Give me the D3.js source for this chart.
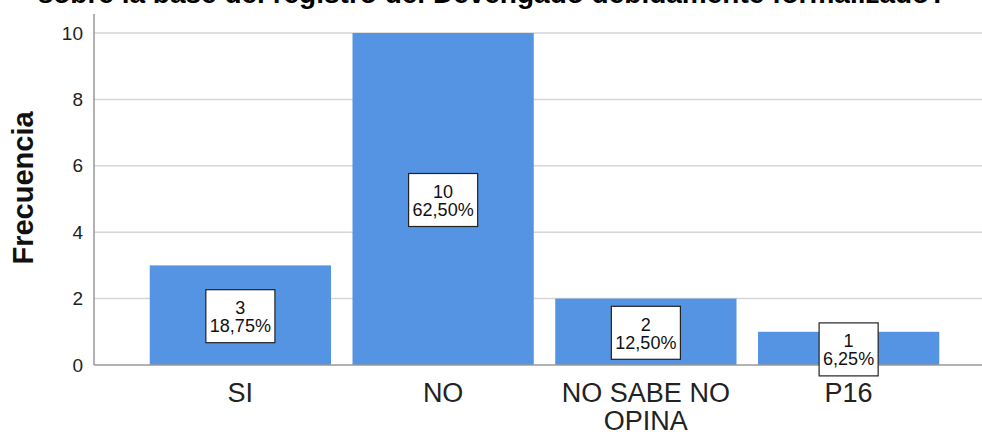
<!DOCTYPE html>
<html>
<head>
<meta charset="utf-8">
<script src="https://cdn.jsdelivr.net/npm/d3@7"></script>
<style>
html,body{margin:0;padding:0;background:#fff;}
svg{display:block;font-family:"Liberation Sans",Arial,sans-serif;}
</style>
</head>
<body>
<svg id="chart" width="982" height="435"></svg>
<script>
const categories = ["SI", "NO", "NO SABE NO|OPINA", "P16"];
const counts = [3, 10, 2, 1];
const percents = ["18,75%", "62,50%", "12,50%", "6,25%"];
const yTicks = [0, 2, 4, 6, 8, 10];
const titleText = "sobre la base del registro del Devengado debidamente formalizado?";
const yTitle = "Frecuencia";

const svg = d3.select("#chart");
const W = 982, H = 435;
const axisX = 94;

const x = d3.scaleBand().domain(categories).range([139, 950]).paddingInner(0.106).paddingOuter(0.053);
const y = d3.scaleLinear().domain([0, 10]).range([365, 33]);

// title (cut off at top, as in the source image)
svg.append("text").attr("x", 492).attr("y", 3).attr("text-anchor", "middle")
  .attr("font-size", 28).attr("font-weight", "bold").attr("fill", "#000").text(titleText);

// gridlines
svg.append("g").selectAll("line").data(yTicks.filter(d => d > 0)).join("line")
  .attr("x1", axisX).attr("x2", W).attr("y1", d => y(d)).attr("y2", d => y(d))
  .attr("stroke", "#d6d6d6").attr("stroke-width", 1.5);

// bars
svg.append("g").selectAll("rect").data(categories).join("rect")
  .attr("x", d => x(d)).attr("width", x.bandwidth())
  .attr("y", (d, i) => y(counts[i])).attr("height", (d, i) => y(0) - y(counts[i]))
  .attr("fill", "#5594e3");

// axes lines
svg.append("line").attr("x1", axisX).attr("x2", axisX).attr("y1", 14).attr("y2", y(0))
  .attr("stroke", "#999").attr("stroke-width", 1.5);
svg.append("line").attr("x1", axisX).attr("x2", W).attr("y1", y(0)).attr("y2", y(0))
  .attr("stroke", "#999").attr("stroke-width", 1.5);

// y axis tick labels
const yAxis = d3.axisLeft(y).tickValues(yTicks).tickSize(0).tickPadding(11);
const gy = svg.append("g").attr("transform", `translate(${axisX},0)`).call(yAxis);
gy.select(".domain").remove();
gy.selectAll("text").attr("font-size", 19).attr("fill", "#222").attr("font-family", "'Liberation Sans',Arial,sans-serif");

// y title
svg.append("text").attr("transform", "translate(33,188) rotate(-90)").attr("text-anchor", "middle")
  .attr("font-size", 29).attr("font-weight", "bold").attr("fill", "#111").text(yTitle);

// x labels
const xl = svg.append("g").selectAll("text").data(categories).join("text")
  .attr("x", d => x(d) + x.bandwidth() / 2).attr("y", 402)
  .attr("text-anchor", "middle").attr("font-size", 27).attr("fill", "#222");
xl.each(function(d) {
  const parts = d.split("|");
  const t = d3.select(this);
  parts.forEach((p, j) => {
    t.append("tspan").attr("x", x(d) + x.bandwidth() / 2).attr("dy", j === 0 ? 0 : 28).text(p);
  });
});

// value labels
categories.forEach((c, i) => {
  const cx = x(c) + x.bandwidth() / 2;
  const cy = (y(counts[i]) + y(0)) / 2 + 1;
  const g = svg.append("g");
  const t = g.append("text").attr("text-anchor", "middle").attr("font-size", 18).attr("fill", "#111");
  t.append("tspan").attr("x", cx).attr("y", cy - 2).text(counts[i]);
  t.append("tspan").attr("x", cx).attr("y", cy + 16).text(percents[i]);
  const bb = t.node().getBBox();
  const w = bb.width + 8, h = 53;
  g.insert("rect", "text").attr("x", cx - w / 2).attr("y", cy - h / 2).attr("width", w).attr("height", h)
    .attr("fill", "#fff").attr("stroke", "#222").attr("stroke-width", 1.2);
});
</script>
</body>
</html>
